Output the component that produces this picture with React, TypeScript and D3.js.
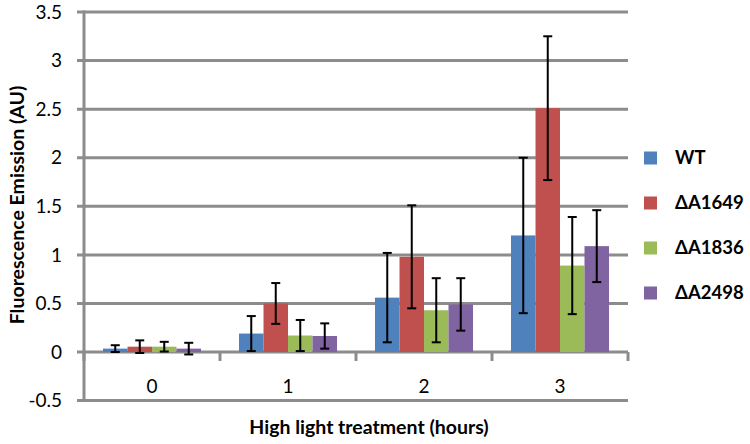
import React, { useEffect, useRef } from 'react';
import * as d3 from 'd3';

const categories = ['0', '1', '2', '3'];
const seriesNames = ['WT', 'ΔA1649', 'ΔA1836', 'ΔA2498'];
const seriesColors = ['#4F81BD', '#C0504D', '#9BBB59', '#8064A2'];

// mean values per series, one entry per category
const wtValues = [0.035, 0.19, 0.56, 1.2];
const a1649Values = [0.055, 0.5, 0.98, 2.51];
const a1836Values = [0.055, 0.17, 0.43, 0.89];
const a2498Values = [0.035, 0.165, 0.49, 1.09];

// error (+/-) per series
const wtErrors = [0.035, 0.18, 0.46, 0.8];
const a1649Errors = [0.065, 0.21, 0.53, 0.74];
const a1836Errors = [0.05, 0.16, 0.33, 0.5];
const a2498Errors = [0.06, 0.13, 0.27, 0.37];

const yTicks = [-0.5, 0, 0.5, 1, 1.5, 2, 2.5, 3, 3.5];

const FONT = 'Lato, "Open Sans", sans-serif';

const Chart: React.FC = () => {
  const svgRef = useRef<SVGSVGElement>(null);

  useEffect(() => {
    if (!svgRef.current) return;
    const svg = d3.select(svgRef.current);
    svg.selectAll('*').remove();

    const values = [wtValues, a1649Values, a1836Values, a2498Values];
    const errors = [wtErrors, a1649Errors, a1836Errors, a2498Errors];

    const left = 84;
    const right = 628;

    const y = d3.scaleLinear().domain([-0.5, 3.5]).range([400.6, 12]);
    const x0 = d3.scaleBand().domain(categories).range([left, right]).paddingInner(0).paddingOuter(0);
    const x1 = d3
      .scaleBand()
      .domain(seriesNames)
      .range([0, x0.bandwidth()])
      .paddingInner(0)
      .paddingOuter(0.776);

    const grid = '#8C8C8C';

    // horizontal gridlines
    svg
      .append('g')
      .selectAll('line')
      .data(yTicks)
      .enter()
      .append('line')
      .attr('x1', left - 7)
      .attr('x2', right)
      .attr('y1', (d) => y(d))
      .attr('y2', (d) => y(d))
      .attr('stroke', grid)
      .attr('stroke-width', 3);

    // y axis line
    svg
      .append('line')
      .attr('x1', left)
      .attr('x2', left)
      .attr('y1', y(3.5) - 1.5)
      .attr('y2', y(-0.5) + 1.5)
      .attr('stroke', grid)
      .attr('stroke-width', 3);

    // category tick marks on the zero line
    const bounds = categories.map((c) => x0(c) || 0).concat([right]);
    svg
      .append('g')
      .selectAll('line')
      .data(bounds)
      .enter()
      .append('line')
      .attr('x1', (d) => d)
      .attr('x2', (d) => d)
      .attr('y1', y(0))
      .attr('y2', y(0) + 9)
      .attr('stroke', grid)
      .attr('stroke-width', 3);

    // y tick labels
    svg
      .append('g')
      .selectAll('text')
      .data(yTicks)
      .enter()
      .append('text')
      .attr('x', 62)
      .attr('y', (d) => y(d))
      .attr('dy', '0.35em')
      .attr('text-anchor', 'end')
      .attr('font-family', FONT)
      .attr('font-size', 19)
      .attr('fill', '#000')
      .text((d) => String(d));

    // x tick labels
    svg
      .append('g')
      .selectAll('text')
      .data(categories)
      .enter()
      .append('text')
      .attr('x', (d) => (x0(d) || 0) + x0.bandwidth() / 2)
      .attr('y', 386)
      .attr('dy', '0.35em')
      .attr('text-anchor', 'middle')
      .attr('font-family', FONT)
      .attr('font-size', 19)
      .attr('fill', '#000')
      .text((d) => d);

    // bars
    seriesNames.forEach((name, si) => {
      const rows = categories.map((c, ci) => ({ c, v: values[si][ci] }));
      svg
        .append('g')
        .selectAll('rect')
        .data(rows)
        .enter()
        .append('rect')
        .attr('x', (d) => (x0(d.c) || 0) + (x1(name) || 0))
        .attr('width', x1.bandwidth())
        .attr('y', (d) => y(d.v))
        .attr('height', (d) => y(0) - y(d.v))
        .attr('fill', seriesColors[si]);
    });

    // error bars
    seriesNames.forEach((name, si) => {
      const g = svg.append('g');
      const rows = categories.map((c, ci) => ({ c, v: values[si][ci], e: errors[si][ci] }));
      const cx = (d: { c: string }) => (x0(d.c) || 0) + (x1(name) || 0) + x1.bandwidth() / 2;

      g.selectAll('.stem')
        .data(rows)
        .enter()
        .append('line')
        .attr('x1', cx)
        .attr('x2', cx)
        .attr('y1', (d) => y(d.v + d.e))
        .attr('y2', (d) => y(d.v - d.e))
        .attr('stroke', '#000')
        .attr('stroke-width', 2);

      ['top', 'bottom'].forEach((side) => {
        g.selectAll(`.cap-${side}`)
          .data(rows)
          .enter()
          .append('line')
          .attr('x1', (d) => cx(d) - 4.5)
          .attr('x2', (d) => cx(d) + 4.5)
          .attr('y1', (d) => y(side === 'top' ? d.v + d.e : d.v - d.e))
          .attr('y2', (d) => y(side === 'top' ? d.v + d.e : d.v - d.e))
          .attr('stroke', '#000')
          .attr('stroke-width', 2);
      });
    });

    // legend
    const legend = svg
      .append('g')
      .selectAll('g')
      .data(seriesNames)
      .enter()
      .append('g')
      .attr('transform', (d, i) => `translate(644,${158 + i * 45})`);

    legend
      .append('rect')
      .attr('x', 0)
      .attr('y', -6.5)
      .attr('width', 13)
      .attr('height', 13)
      .attr('fill', (d, i) => seriesColors[i]);

    legend
      .append('text')
      .attr('x', 31)
      .attr('y', 0)
      .attr('dy', '0.35em')
      .attr('font-family', FONT)
      .attr('font-weight', 'bold')
      .attr('font-size', 18.5)
      .attr('fill', '#000')
      .text((d) => d);

    // axis titles
    svg
      .append('text')
      .attr('x', 369)
      .attr('y', 427)
      .attr('dy', '0.35em')
      .attr('text-anchor', 'middle')
      .attr('font-family', FONT)
      .attr('font-weight', 'bold')
      .attr('font-size', 19.5)
      .text('High light treatment (hours)');

    svg
      .append('text')
      .attr('transform', 'translate(17,205) rotate(-90)')
      .attr('dy', '0.35em')
      .attr('text-anchor', 'middle')
      .attr('font-family', FONT)
      .attr('font-weight', 'bold')
      .attr('font-size', 19.5)
      .text('Fluorescence Emission (AU)');
  }, []);

  return (
    <svg
      ref={svgRef}
      width="750"
      height="444"
      style={{ position: 'absolute', left: 0, top: 0, background: '#fff' }}
    />
  );
};

export default function App() {
  return <Chart />;
}
